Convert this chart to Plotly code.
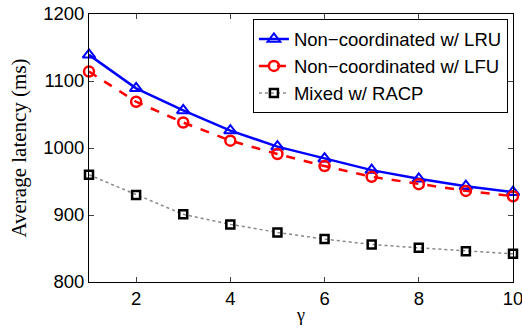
import plotly.graph_objects as go

gamma = [1, 2, 3, 4, 5, 6, 7, 8, 9, 10]
lru = [1139, 1089, 1056, 1026, 1002, 984, 967, 954, 943, 934]
lfu = [1114, 1069, 1038, 1011, 991, 973, 957, 946, 936, 928]
racp = [960, 930, 901, 886, 874, 864, 856, 851, 846, 842]

fig = go.Figure()
fig.add_trace(go.Scatter(x=gamma, y=lru, mode="lines+markers", name="Non\u2212coordinated w/ LRU",
                         cliponaxis=False,
                         line=dict(color="#0000ff", width=2.5),
                         marker=dict(symbol="triangle-up-open", size=11, color="#0000ff", line=dict(width=2))))
fig.add_trace(go.Scatter(x=gamma, y=lfu, mode="lines+markers", name="Non\u2212coordinated w/ LFU",
                         cliponaxis=False,
                         line=dict(color="#ff0000", width=2.5, dash="dash"),
                         marker=dict(symbol="circle-open", size=10, color="#ff0000", line=dict(width=2.5))))
fig.add_trace(go.Scatter(x=gamma, y=racp, mode="lines+markers", name="Mixed w/ RACP",
                         cliponaxis=False,
                         line=dict(color="#888888", width=1.5, dash="dot"),
                         marker=dict(symbol="square-open", size=8, color="#000000", line=dict(width=2.5))))

fig.update_layout(
    width=522, height=329,
    margin=dict(l=89, r=9, t=14, b=47),
    paper_bgcolor="white", plot_bgcolor="white",
    font=dict(family="Liberation Sans, Arial, sans-serif", size=18.5, color="black"),
    showlegend=True,
    legend=dict(x=0.988, y=0.98, xanchor="right", yanchor="top",
                bordercolor="black", borderwidth=1, bgcolor="white",
                font=dict(size=18.5), tracegroupgap=0, itemwidth=30),
    xaxis=dict(range=[1, 10], tickvals=[2, 4, 6, 8, 10], ticks="inside", ticklen=5,
               showline=True, linecolor="black", linewidth=1, mirror="ticks", showgrid=False,
               zeroline=False, automargin=False, ticklabeloverflow="allow",
               title=dict(text="\u03b3", font=dict(family="Liberation Serif, Times New Roman, serif", size=18), standoff=0)),
    yaxis=dict(range=[800, 1200], tickvals=[800, 900, 1000, 1100, 1200], ticks="inside", ticklen=5,
               showline=True, linecolor="black", linewidth=1, mirror="ticks", showgrid=False,
               zeroline=False, automargin=False, ticklabeloverflow="allow",
               title=dict(text="Average latency (ms)", font=dict(family="Liberation Serif, Times New Roman, serif", size=21), standoff=10)),
)

fig.write_html("out.html", config={"displayModeBar": False},
               post_script="document.body.style.margin='0';document.body.style.overflow='hidden';")
